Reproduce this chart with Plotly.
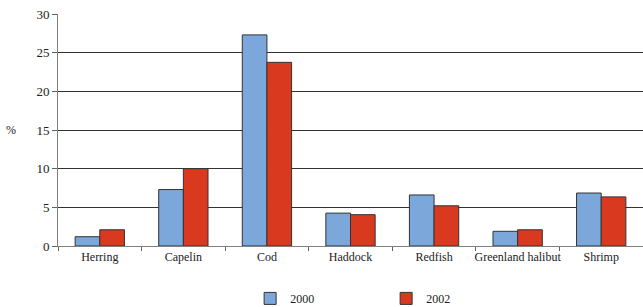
import plotly.graph_objects as go

categories = ["Herring", "Capelin", "Cod", "Haddock", "Redfish", "Greenland halibut", "Shrimp"]
values_2000 = [1.2, 7.3, 27.3, 4.25, 6.6, 1.9, 6.85]
values_2002 = [2.1, 10.0, 23.75, 4.05, 5.2, 2.1, 6.35]
y_ticks = [0, 5, 10, 15, 20, 25, 30]

FONT = "Liberation Serif, Times New Roman, serif"

fig = go.Figure()
fig.add_trace(go.Bar(x=categories, y=values_2000, name="2000",
                     marker=dict(color="#7BA7DA", line=dict(color="#333333", width=1))))
fig.add_trace(go.Bar(x=categories, y=values_2002, name="2002",
                     marker=dict(color="#D93A1F", line=dict(color="#333333", width=1))))

fig.update_layout(
    width=643, height=307, autosize=False,
    margin=dict(l=58, r=0, t=14, b=61, autoexpand=False),
    paper_bgcolor="white", plot_bgcolor="white",
    barmode="group", bargap=0.41, bargroupgap=0,
    font=dict(family=FONT, size=12, color="#222222"),
    showlegend=True,
    legend=dict(orientation="h", xref="container", yref="container",
                x=0.389, xanchor="left", y=0.028, yanchor="middle",
                font=dict(family=FONT, size=12), entrywidth=91, entrywidthmode="pixels",
                traceorder="normal"),
    xaxis=dict(showgrid=False, showline=True, linecolor="#808080", linewidth=1,
               ticks="outside", tickson="boundaries", ticklen=4, tickcolor="#606060",
               tickangle=0, automargin=False,
               tickfont=dict(family=FONT, size=12)),
    yaxis=dict(range=[0, 30], tickvals=y_ticks, showgrid=True, gridcolor="#333333", gridwidth=1,
               showline=True, linecolor="#808080", linewidth=1, zeroline=False,
               ticks="outside", ticklen=5, tickcolor="#606060", automargin=False,
               tickfont=dict(family=FONT, size=13)),
    annotations=[dict(text="%", xref="paper", yref="paper", x=-0.08, y=0.5, showarrow=False,
                      xanchor="center", yanchor="middle", font=dict(family=FONT, size=12))],
)

post = ("document.documentElement.style.margin='0';document.documentElement.style.padding='0';"
        "document.body.style.margin='0';document.body.style.padding='0';"
        "document.documentElement.style.overflow='hidden';document.body.style.overflow='hidden';"
        "var gd=document.getElementById('{plot_id}');"
        "var p=gd;while(p&&p!==document.body){p.style.width='643px';p.style.height='307px';"
        "p.style.margin='0';p.style.padding='0';p=p.parentElement;}"
        "Plotly.relayout(gd,{width:643,height:307,autosize:false});")

fig.write_html("out.html", post_script=post,
               config={"displayModeBar": False, "responsive": False})
